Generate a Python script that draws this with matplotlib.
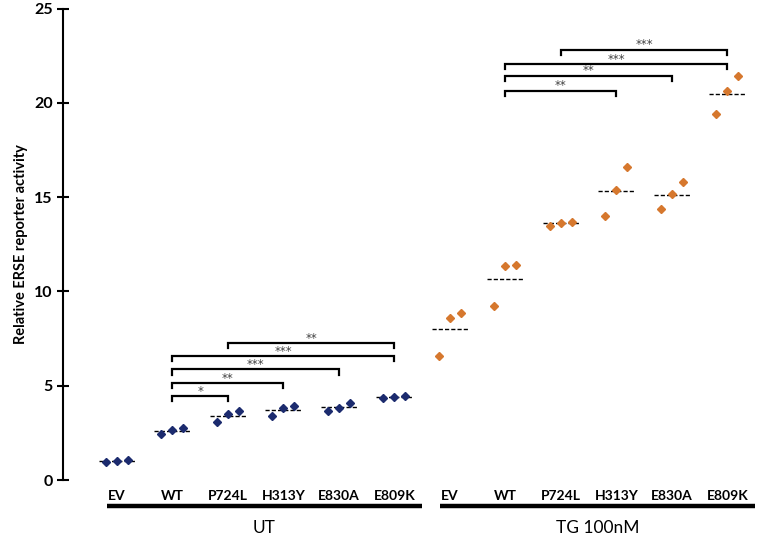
import numpy as np
import matplotlib.pyplot as plt
from matplotlib.transforms import blended_transform_factory

plt.rcParams["font.family"] = ["Lato", "DejaVu Sans"]

MUTANTS = ["EV", "WT", "P724L", "H313Y", "E830A", "E809K"]
GROUPS = ["UT", "TG 100nM"]

UT_VALUES = [
    [0.97, 1.00, 1.05],
    [2.45, 2.63, 2.77],
    [3.07, 3.51, 3.65],
    [3.37, 3.80, 3.92],
    [3.65, 3.81, 4.08],
    [4.36, 4.41, 4.47],
]
TG_VALUES = [
    [6.57, 8.61, 8.84],
    [9.24, 11.36, 11.41],
    [13.49, 13.65, 13.70],
    [13.98, 15.39, 16.58],
    [14.35, 15.15, 15.78],
    [19.39, 20.60, 21.41],
]

# significance brackets: (from index, to index, height, label), indices over all 12 columns
SIG = [
    (1, 2, 4.45, "*"),
    (1, 3, 5.15, "**"),
    (1, 4, 5.86, "***"),
    (1, 5, 6.57, "***"),
    (2, 5, 7.27, "**"),
    (7, 9, 20.65, "**"),
    (7, 10, 21.44, "**"),
    (7, 11, 22.05, "***"),
    (8, 11, 22.82, "***"),
]

COLORS = ["#1c2b6e", "#d6782e"]


def main() -> None:
    fig = plt.figure(figsize=(7.59, 5.35), dpi=100)
    ax = fig.add_axes([63 / 759, 1 - 480 / 535, 1 - 63 / 759, (480 - 8.5) / 535])

    n = len(MUTANTS)
    offsets = np.array([-0.2, 0.0, 0.2])
    for g, (vals, col) in enumerate(zip([UT_VALUES, TG_VALUES], COLORS)):
        for i, v in enumerate(vals):
            xc = g * n + i
            ax.plot(xc + offsets, v, linestyle="none", marker="D", markersize=4.0,
                    color=col, zorder=3)
            m = np.mean(v)
            ax.plot([xc - 0.33, xc + 0.33], [m, m], color="black", linestyle=(0, (3, 1.5)),
                    linewidth=1.0, zorder=2)

    drop = 0.28
    for a, b, h, lab in SIG:
        ax.plot([a, a, b, b], [h - drop, h, h, h - drop], color="black", linewidth=1.6,
                solid_joinstyle="miter", zorder=2)
        ax.text((a + b) / 2, h + 0.25, lab, ha="center", va="center", fontsize=8.5,
                color="#404040", family="DejaVu Sans")

    ax.set_xlim(-0.97, 11.57)
    ax.set_ylim(0, 25)
    ax.set_yticks([0, 5, 10, 15, 20, 25])
    ax.tick_params(axis="y", direction="inout", length=9, width=1.5, labelsize=11.5, pad=3)
    for t in ax.get_yticklabels():
        t.set_fontweight("bold")
    ax.set_xticks(range(2 * n))
    ax.set_xticklabels(MUTANTS * 2, fontsize=10, fontweight="bold")
    ax.tick_params(axis="x", length=0, pad=7)
    for s in ["top", "right", "bottom"]:
        ax.spines[s].set_visible(False)
    ax.spines["left"].set_linewidth(1.5)
    ax.set_ylabel("Relative ERSE reporter activity", fontsize=10.5, fontweight="bold", labelpad=4)

    trans = blended_transform_factory(ax.transData, fig.transFigure)
    for g, name in enumerate(GROUPS):
        x0 = g * n - 0.18
        x1 = g * n + n - 1 + 0.5
        ax.plot([x0, x1], [1 - 506 / 535] * 2, color="black", linewidth=3.2,
                transform=trans, clip_on=False, solid_capstyle="butt")
        ax.text((x0 + x1) / 2, 1 - 528 / 535, name, transform=trans, ha="center",
                va="center", fontsize=12.5)

    fig.savefig("out.png", dpi=100)


if __name__ == "__main__":
    main()
